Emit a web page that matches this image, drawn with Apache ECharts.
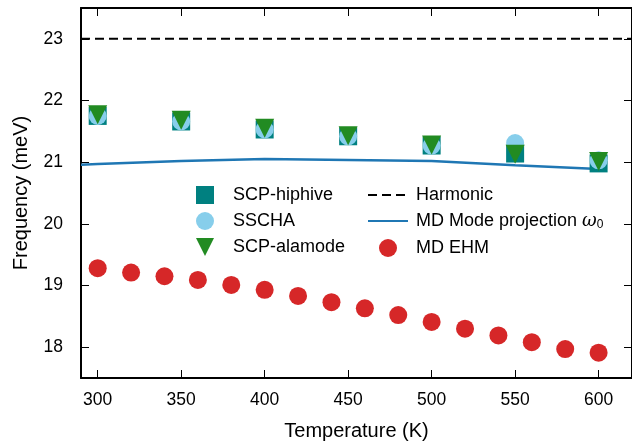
<!DOCTYPE html>
<html>
<head>
<meta charset="utf-8">
<script src="https://cdn.jsdelivr.net/npm/echarts@6/dist/echarts.min.js"></script>
<style>
  html, body { margin: 0; padding: 0; background: #fff; }
  #chart { width: 632px; height: 446px; }
</style>
</head>
<body>
<div id="chart"></div>
<script>
// Phonon mode frequency vs temperature from several methods
const temps = [300, 350, 400, 450, 500, 550, 600];
const scpHiphive = [21.75, 21.66, 21.53, 21.42, 21.27, 21.14, 20.98];
const sscha = [21.75, 21.66, 21.53, 21.42, 21.27, 21.31, 21.03];
const scpAlamode = [21.77, 21.68, 21.55, 21.43, 21.28, 21.13, 21.01];

const harmonicTemps = [290, 620];
const harmonicFreq = [23, 23];

const modeTemps = [290, 300, 350, 400, 500, 550, 600];
const modeFreq = [20.96, 20.97, 21.02, 21.05, 21.02, 20.95, 20.89];

const ehmTemps = [300, 320, 340, 360, 380, 400, 420, 440, 460, 480, 500, 520, 540, 560, 580, 600];
const ehmFreq = [19.28, 19.21, 19.15, 19.09, 19.01, 18.93, 18.83, 18.73, 18.63, 18.52, 18.41, 18.30, 18.19, 18.08, 17.97, 17.91];

const xTicks = [300, 350, 400, 450, 500, 550, 600];
const yTicks = [18, 19, 20, 21, 22, 23];

const MODE_NAME = 'MD Mode projection ω0';
const FONT = 'Liberation Sans, Arial, sans-serif';

const pairs = (xs, ys) => xs.map((x, i) => [x, ys[i]]);

const tickStyle = { show: true, inside: true, length: 8, lineStyle: { color: '#000', width: 1 } };
const lineStyle = { show: true, lineStyle: { color: '#000', width: 2 } };

// line-only legend entries: hide the marker the line icon carries by default
const lineOnly = name => ({ name, itemStyle: { opacity: 0 } });
// downward triangle icon for the alamode entry
const DOWN_TRIANGLE = 'path://M0,0 L20,0 L10,20 Z';

const chart = echarts.init(document.getElementById('chart'));
chart.setOption({
  animation: false,
  backgroundColor: '#fff',
  textStyle: { fontFamily: FONT },
  grid: { left: 81, right: 0, top: 8, bottom: 68 },
  xAxis: [{
    type: 'value', min: 290, max: 620,
    name: 'Temperature (K)', nameLocation: 'middle', nameGap: 43,
    nameTextStyle: { fontSize: 20, color: '#000', fontFamily: FONT },
    axisLine: lineStyle,
    axisTick: Object.assign({ customValues: xTicks }, tickStyle),
    axisLabel: { customValues: xTicks, fontSize: 17.5, color: '#000', margin: 13, fontFamily: FONT },
    splitLine: { show: false }
  }, {
    type: 'value', min: 290, max: 620, position: 'top',
    axisLine: lineStyle,
    axisTick: Object.assign({ customValues: xTicks }, tickStyle),
    axisLabel: { show: false },
    splitLine: { show: false }
  }],
  yAxis: [{
    type: 'value', min: 17.5, max: 23.5,
    name: 'Frequency (meV)', nameLocation: 'middle', nameGap: 50,
    nameTextStyle: { fontSize: 20, color: '#000', fontFamily: FONT },
    axisLine: lineStyle,
    axisTick: Object.assign({ customValues: yTicks }, tickStyle),
    axisLabel: { customValues: yTicks, fontSize: 17.5, color: '#000', margin: 18, fontFamily: FONT },
    splitLine: { show: false }
  }, {
    type: 'value', min: 17.5, max: 23.5, position: 'right',
    axisLine: lineStyle,
    axisTick: Object.assign({ customValues: yTicks }, tickStyle),
    axisLabel: { show: false },
    splitLine: { show: false }
  }],
  legend: [{
    data: ['SCP-hiphive', 'SSCHA', { name: 'SCP-alamode', icon: DOWN_TRIANGLE }],
    orient: 'vertical', left: 196, top: 186, padding: 0,
    itemWidth: 18, itemHeight: 18, itemGap: 8,
    textStyle: { fontSize: 18, color: '#000', fontFamily: FONT, padding: [0, 0, 0, 14] }
  }, {
    data: [lineOnly('Harmonic'), lineOnly(MODE_NAME), 'MD EHM'],
    orient: 'vertical', left: 367, top: 186, padding: 0,
    itemWidth: 40, itemHeight: 18, itemGap: 8,
    formatter: name => name === MODE_NAME ? 'MD Mode projection {w|ω}{s|0}' : name,
    textStyle: {
      fontSize: 18, color: '#000', fontFamily: FONT, padding: [0, 0, 0, 3],
      rich: {
        w: { fontSize: 18, fontStyle: 'italic', fontFamily: 'DejaVu Serif', color: '#000' },
        s: { fontSize: 12, verticalAlign: 'bottom', padding: [8, 0, 0, 0], color: '#000', fontFamily: FONT }
      }
    }
  }],
  series: [{
    name: 'Harmonic', type: 'line', data: pairs(harmonicTemps, harmonicFreq),
    symbol: 'none', lineStyle: { color: '#000', width: 2, type: [9, 5] }, z: 2
  }, {
    name: MODE_NAME, type: 'line', data: pairs(modeTemps, modeFreq),
    symbol: 'none', lineStyle: { color: '#1f77b4', width: 2.5 }, itemStyle: { color: '#1f77b4' }, z: 2
  }, {
    name: 'SCP-hiphive', type: 'scatter', data: pairs(temps, scpHiphive),
    symbol: 'rect', symbolSize: 18, itemStyle: { color: '#008080', opacity: 1 }, z: 3
  }, {
    name: 'SSCHA', type: 'scatter', data: pairs(temps, sscha),
    symbol: 'circle', symbolSize: 18, itemStyle: { color: '#87ceeb', opacity: 1 }, z: 4
  }, {
    name: 'SCP-alamode', type: 'scatter', data: pairs(temps, scpAlamode),
    symbol: 'triangle', symbolRotate: 180, symbolSize: 19, itemStyle: { color: '#228b22', opacity: 1 }, z: 5
  }, {
    name: 'MD EHM', type: 'scatter', data: pairs(ehmTemps, ehmFreq),
    symbol: 'circle', symbolSize: 18, itemStyle: { color: '#d62728', opacity: 1 }, z: 3
  }]
});
</script>
</body>
</html>
